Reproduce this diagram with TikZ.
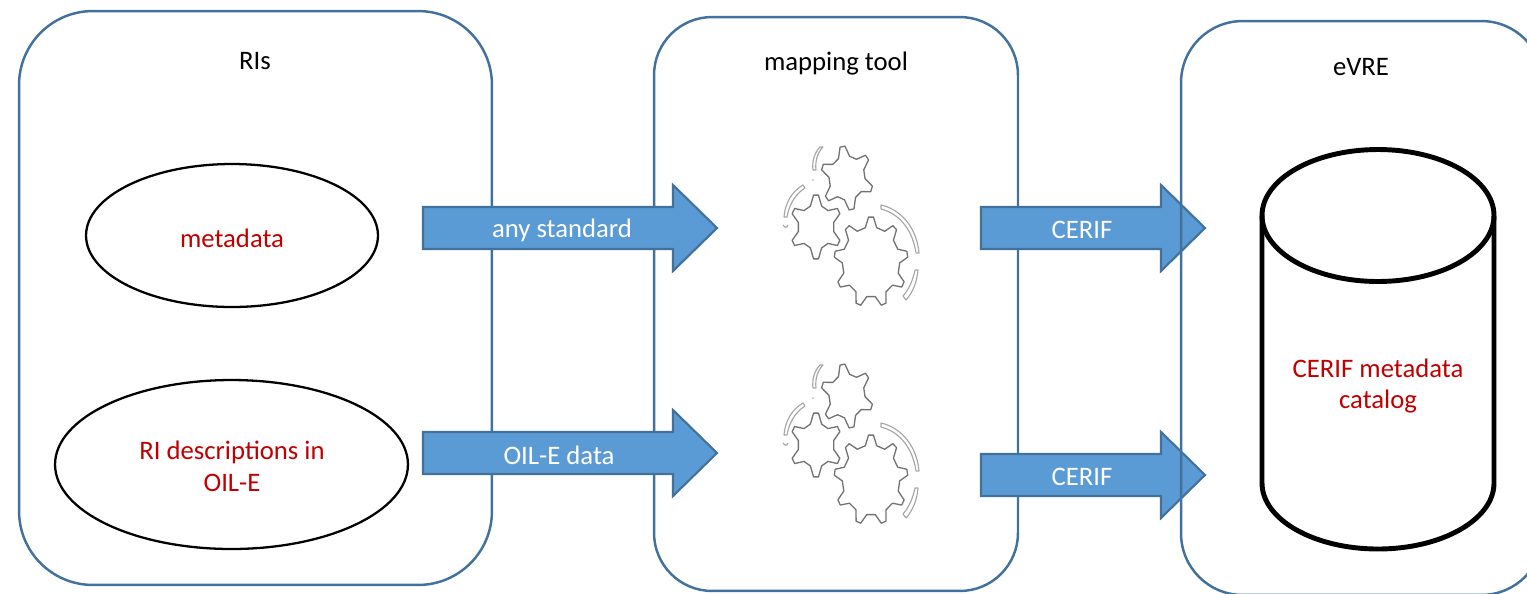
\documentclass[tikz,border=0pt]{standalone}
\usepackage{fontspec}
\setmainfont{Carlito}
\usepackage{tikz}
\usetikzlibrary{shapes.geometric, positioning, calc}

\definecolor{boxblue}{HTML}{41719C}
\definecolor{arrowblue}{HTML}{5B9BD5}
\definecolor{labelred}{HTML}{C00000}

\newcommand{\cogwheel}[6]{% cx, cy, inner radius, outer radius, teeth, rotation
  \begin{scope}[shift={(#1,#2)}, xscale=0.82]
    \pgfmathsetmacro{\wbase}{7/#3*57.3}
    \pgfmathsetmacro{\wtip}{3/#4*57.3}
    \draw[cogline] ({#6-\wbase}:#3)
      foreach \i [evaluate=\i as \a using #6+\i*360/#5] in {1,...,#5} {
        -- ({\a-360/#5-\wbase}:#3) -- ({\a-360/#5-\wtip}:#4) -- ({\a-360/#5+\wtip}:#4) -- ({\a-360/#5+\wbase}:#3)
      } -- cycle;
  \end{scope}
}

\tikzset{
  container/.style={draw=boxblue, line width=1.4pt, rounded corners=42pt, inner sep=0pt},
  blob/.style={ellipse, draw=black, line width=1.3pt, inner sep=0pt},
  redlabel/.style={text=labelred, align=center},
  flowarrow/.style={draw=boxblue, line width=1.2pt, fill=arrowblue, miter limit=10},
  flowlabel/.style={text=white},
  drumline/.style={draw=black, line width=2.8pt},
  cogline/.style={draw=black!55, line width=0.75pt, line join=round},
  spinline/.style={draw=black!35, line width=0.65pt, line join=round},
  cogset/.pic={
    \cogwheel{0}{0}{22}{32}{6}{-100}
    \cogwheel{-31}{49}{22}{32}{6}{-90}
    \cogwheel{24}{84}{35}{45}{9}{-90}
    % spin marks
    \draw[spinline] (-27,-31) .. controls (-33,-25) and (-35,-16) .. (-34,-8) -- (-31,-8) .. controls (-32,-16) and (-30,-25) .. (-24,-31) -- cycle;
    \draw[spinline] (-44,7) .. controls (-56,14) and (-62,26) .. (-63,39) -- (-60,39) .. controls (-58,28) and (-53,17) .. (-42,10) -- cycle;
    \draw[spinline] (-64,47) .. controls (-62,50) and (-60,50) .. (-59,47);
    \draw[spinline] (34,27) .. controls (56,32) and (70,52) .. (72,75) -- (69,75) .. controls (66,54) and (54,36) .. (34,31) -- cycle;
    \draw[spinline] (71,92) .. controls (70,104) and (66,114) .. (59,122) -- (56,118) .. controls (62,111) and (66,102) .. (68,92) -- cycle;
    \fill[black!35] (-34,2) circle[radius=0.8];
  }
}

\begin{document}
\begin{tikzpicture}[x=0.02cm, y=-0.02cm, font=\fontsize{15.2}{18}\selectfont]

\clip (0,0) rectangle (1527,593);

% Left and middle containers
\node[container, minimum width=9.46cm, minimum height=11.48cm] (ris) at (255.5,298) {};
\node[container, minimum width=7.28cm, minimum height=11.48cm, rounded corners=33pt] (mapping) at (836,304) {};

\node (ris_label) at (255,61) {RIs};
\node (mapping_label) at (836,64) {mapping tool};
\node (evre_label) at (1361,67) {eVRE};

% Sources
\node[blob, minimum width=5.84cm, minimum height=2.86cm] (metadata) at (232,235.5) {};
\node[redlabel] (metadata_label) at (232,238) {metadata};
\node[blob, minimum width=7.06cm, minimum height=3.38cm] (descriptions) at (231.5,464.5) {};
\node[redlabel] (descriptions_label) at (232,466) {RI descriptions in\\OIL-E};

% Block arrows
\foreach \name/\xa/\xb/\ym/\xl/\txt in {
  anystd/423/717/228/562/any standard,
  oile/423/717/453/559/OIL-E data,
  cerifa/981/1205/228/1082/CERIF,
  cerifb/981/1205/475/1082/CERIF} {
  \draw[flowarrow] (\xa,\ym-21) -- ({\xb-44},\ym-21) -- ({\xb-44},\ym-43) -- (\xb,\ym)
    -- ({\xb-44},\ym+43) -- ({\xb-44},\ym+21) -- (\xa,\ym+21) -- cycle;
  \node[flowlabel] (\name) at (\xl,\ym+2) {\txt};
}

% Cogs
\pic at (847,178) {cogset};
\pic at (847,396) {cogset};

% Catalog container goes over the arrows
\node[container, minimum width=7.24cm, minimum height=11.48cm, rounded corners=35pt] (evre) at (1362,308) {};

% Catalog drum
\draw[drumline] (1262,215.5) -- (1262,483) arc[start angle=180, end angle=0, x radius=116, y radius=66] -- (1494,215.5);
\node[ellipse, draw=black, line width=2.8pt, minimum width=4.64cm, minimum height=2.64cm, inner sep=0pt] (catalog) at (1378,215.5) {};
\node[redlabel] (catalog_label) at (1378,386) {CERIF metadata\\catalog};

\end{tikzpicture}
\end{document}
